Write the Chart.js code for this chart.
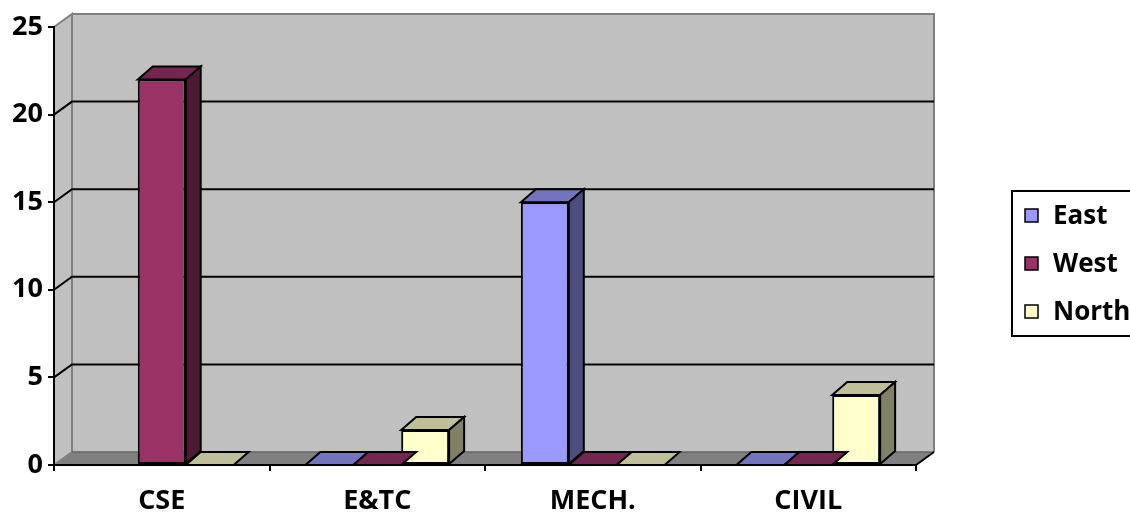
<!DOCTYPE html>
<html>
<head>
<meta charset="utf-8">
<script src="https://cdn.jsdelivr.net/npm/chart.js@4.4.1/dist/chart.umd.min.js"></script>
<style>
  html, body { margin: 0; padding: 0; background: #fff; overflow: hidden; }
  #wrap { width: 1130px; height: 514px; }
</style>
</head>
<body>
<div id="wrap"><canvas id="chart" width="1130" height="514"></canvas></div>
<script>
const categories = ['CSE', 'E&TC', 'MECH.', 'CIVIL'];
const seriesNames = ['East', 'West', 'North'];
const eastValues = [null, 0, 15, 0];
const westValues = [22, 0, 0, 0];
const northValues = [0, 2, 0, 4];
const yMin = 0, yMax = 25, yStep = 5;

// front, top, side shades (Excel 2003 palette)
const shades = [
    ['#9999FF', '#7373BF', '#4D4D80'],
    ['#993366', '#732650', '#4D1A33'],
    ['#FFFFCC', '#BFBF99', '#808066']
];

const FONT = '"Open Sans"';
const wallDx = 18, wallDy = 13;
const barDx = 15, barDy = 13;

function poly(ctx, pts, fill, stroke, lw) {
    ctx.beginPath();
    ctx.moveTo(pts[0][0], pts[0][1]);
    for (let i = 1; i < pts.length; i++) ctx.lineTo(pts[i][0], pts[i][1]);
    ctx.closePath();
    if (fill) { ctx.fillStyle = fill; ctx.fill(); }
    if (stroke) { ctx.strokeStyle = stroke; ctx.lineWidth = lw || 1; ctx.stroke(); }
}

const walls = {
    id: 'walls',
    beforeDraw(chart) {
        const { ctx, chartArea: a } = chart;
        const y = chart.scales.y;
        const L = a.left, R = a.right, T = a.top, B = a.bottom;
        ctx.save();
        // back wall
        ctx.fillStyle = '#C0C0C0';
        ctx.fillRect(L + wallDx, T - wallDy, R - L, B - T);
        ctx.strokeStyle = '#808080';
        ctx.lineWidth = 2;
        ctx.beginPath();
        ctx.moveTo(L + wallDx, T - wallDy);
        ctx.lineTo(R + wallDx, T - wallDy);
        ctx.lineTo(R + wallDx, B - wallDy);
        ctx.stroke();
        // side wall
        poly(ctx, [[L, T], [L + wallDx, T - wallDy], [L + wallDx, B - wallDy], [L, B]], '#C0C0C0', '#808080', 2);
        // floor
        poly(ctx, [[L, B], [L + wallDx, B - wallDy], [R + wallDx, B - wallDy], [R, B]], '#808080', null);
        ctx.strokeStyle = '#666';
        ctx.lineWidth = 1.5;
        ctx.beginPath();
        ctx.moveTo(L + wallDx, B - wallDy);
        ctx.lineTo(R + wallDx, B - wallDy);
        ctx.stroke();
        ctx.strokeStyle = '#000';
        ctx.lineWidth = 2;
        ctx.beginPath();
        ctx.moveTo(R, B);
        ctx.lineTo(R + wallDx, B - wallDy);
        ctx.stroke();
        // gridlines
        ctx.strokeStyle = '#000';
        ctx.lineWidth = 2;
        for (let v = yMin + yStep; v < yMax; v += yStep) {
            const py = y.getPixelForValue(v);
            ctx.beginPath();
            ctx.moveTo(L, py);
            ctx.lineTo(L + wallDx, py - wallDy);
            ctx.lineTo(R + wallDx, py - wallDy);
            ctx.stroke();
        }
        ctx.restore();
    },
    afterDatasetsDraw(chart) {
        const ctx = chart.ctx;
        ctx.save();
        ctx.lineJoin = 'miter';
        chart.data.datasets.forEach((ds, di) => {
            const meta = chart.getDatasetMeta(di);
            meta.data.forEach((bar, i) => {
                if (ds.data[i] === null) return;
                const p = bar.getProps(['x', 'y', 'base', 'width'], true);
                const l = p.x - p.width / 2, r = p.x + p.width / 2;
                const top = Math.min(p.y, p.base), base = p.base;
                poly(ctx, [[l, top], [l + barDx, top - barDy], [r + barDx, top - barDy], [r, top]], shades[di][1], '#000', 2);
                if (base - top > 0.5) {
                    poly(ctx, [[r, top], [r + barDx, top - barDy], [r + barDx, base - barDy], [r, base]], shades[di][2], '#000', 2);
                }
            });
        });
        ctx.restore();
    },
    afterDraw(chart) {
        const ctx = chart.ctx;
        ctx.save();
        // legend box
        ctx.fillStyle = '#fff';
        ctx.fillRect(1012, 191, 140, 145);
        ctx.strokeStyle = '#000';
        ctx.lineWidth = 2;
        ctx.strokeRect(1012, 191, 140, 145);
        ctx.font = 'bold 26px ' + FONT;
        ctx.textBaseline = 'middle';
        chart.data.datasets.forEach((ds, i) => {
            const cy = 216 + i * 48;
            ctx.fillStyle = ds.backgroundColor;
            ctx.fillRect(1025, cy - 7, 13, 13);
            ctx.lineWidth = 1.5;
            ctx.strokeRect(1025, cy - 7, 13, 13);
            ctx.fillStyle = '#000';
            ctx.fillText(ds.label, 1053, cy + 1);
        });
        ctx.restore();
    }
};

const allValues = [eastValues, westValues, northValues];

new Chart(document.getElementById('chart'), {
    type: 'bar',
    data: {
        labels: categories,
        datasets: seriesNames.map((name, i) => ({
            label: name,
            data: allValues[i],
            backgroundColor: shades[i][0],
            borderColor: '#000',
            borderWidth: 2,
            borderSkipped: false,
            barPercentage: 1,
            categoryPercentage: 0.667
        }))
    },
    options: {
        responsive: false,
        animation: false,
        layout: { padding: { top: 27, right: 214, left: 0, bottom: 0 } },
        plugins: { legend: { display: false }, tooltip: { enabled: false } },
        scales: {
            x: {
                afterFit(s) { s.height = 49; },
                grid: { drawOnChartArea: false, drawTicks: true, tickLength: 6, color: '#000', lineWidth: 2 },
                border: { color: '#000', width: 2 },
                ticks: { color: '#000', font: { family: FONT, size: 27, weight: 'bold' }, padding: 14 }
            },
            y: {
                min: yMin, max: yMax,
                afterFit(s) { s.width = 54; },
                grid: { drawOnChartArea: false, drawTicks: true, tickLength: 6, color: '#000', lineWidth: 2 },
                border: { color: '#000', width: 2 },
                ticks: { stepSize: yStep, color: '#000', font: { family: FONT, size: 27, weight: 'bold' }, padding: 5 }
            }
        }
    },
    plugins: [walls]
});
</script>
</body>
</html>
